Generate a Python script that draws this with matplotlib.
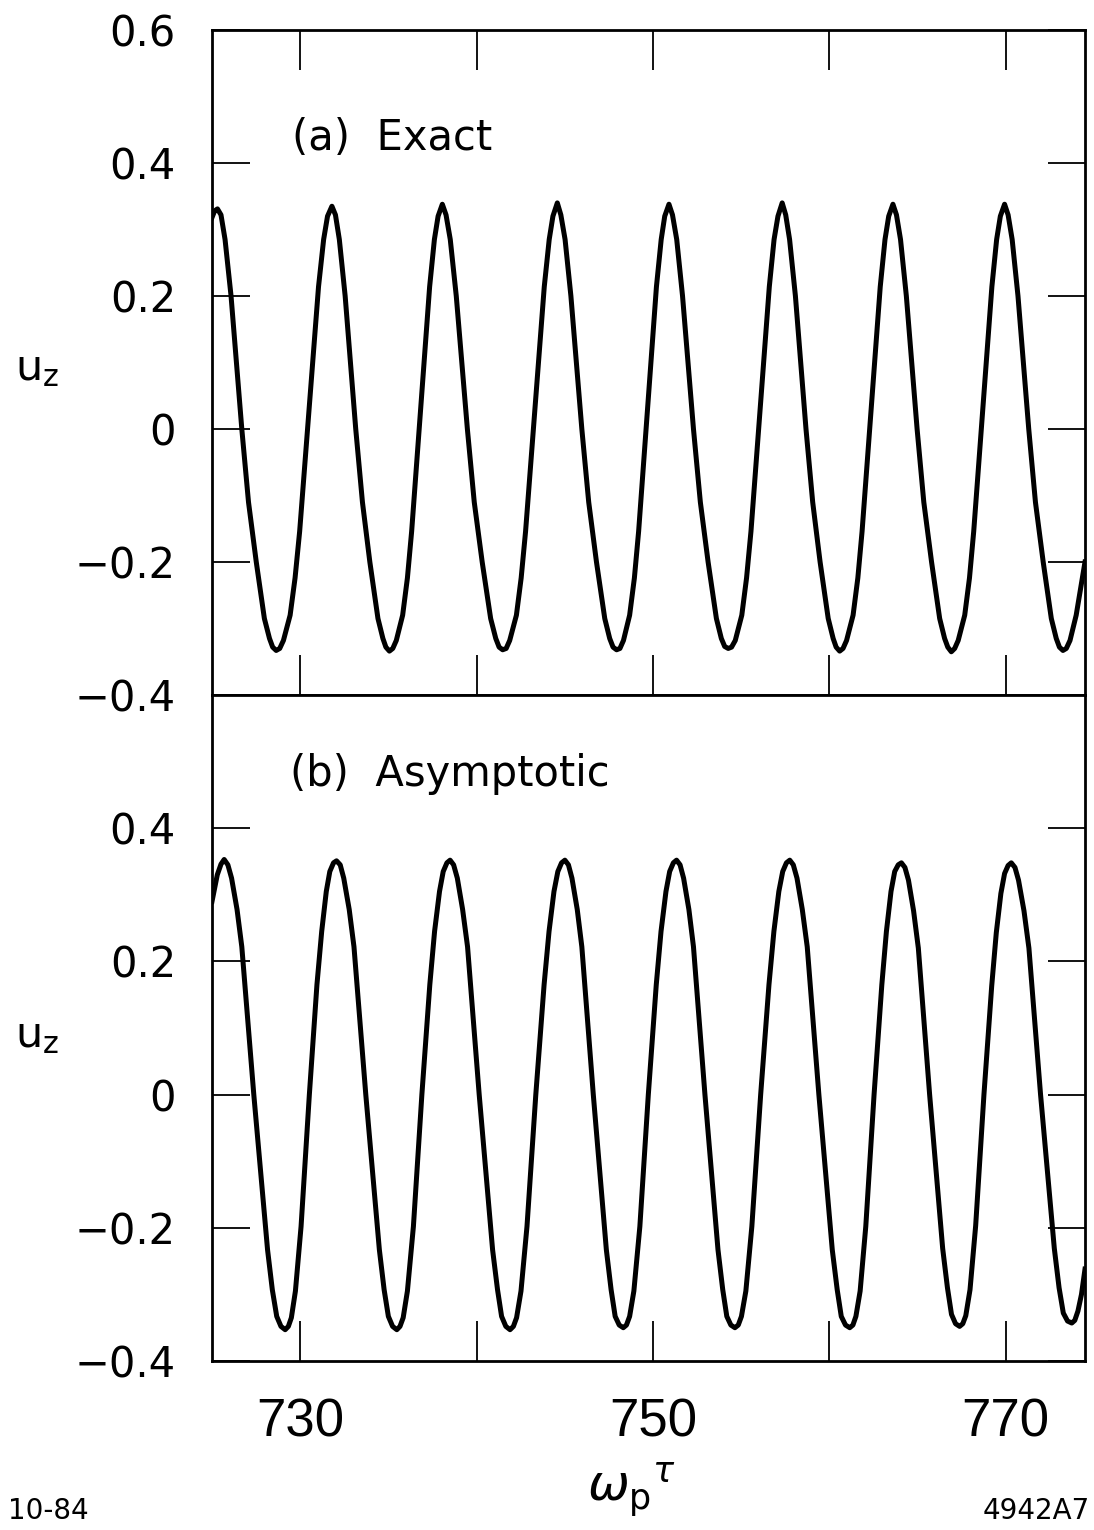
import matplotlib
matplotlib.use('Agg')
import matplotlib.pyplot as plt

# ---------------- data ----------------
# (a) Exact
time_a = [725.00, 725.15, 725.31,
          725.51, 725.74, 726.08, 726.69, 727.07, 727.51, 727.97, 728.26, 728.44, 728.64,
          728.84, 729.05, 729.43, 729.71, 729.97, 731.04, 731.33, 731.55, 731.80,
          732.00, 732.22, 732.55, 733.15, 733.53, 733.95, 734.41, 734.69, 734.86, 735.06,
          735.25, 735.45, 735.81, 736.08, 736.32, 737.34, 737.61, 737.82, 738.06,
          738.27, 738.51, 738.85, 739.48, 739.87, 740.32, 740.80, 741.09, 741.28, 741.48,
          741.68, 741.88, 742.26, 742.53, 742.78, 743.84, 744.12, 744.33, 744.58,
          744.78, 745.02, 745.35, 745.97, 746.36, 746.80, 747.27, 747.55, 747.74, 747.94,
          748.13, 748.33, 748.68, 748.95, 749.19, 750.20, 750.47, 750.67, 750.91,
          751.11, 751.35, 751.68, 752.30, 752.69, 753.13, 753.60, 753.88, 754.07, 754.27,
          754.46, 754.67, 755.04, 755.31, 755.56, 756.60, 756.87, 757.09, 757.33,
          757.53, 757.75, 758.08, 758.68, 759.06, 759.48, 759.94, 760.22, 760.39, 760.59,
          760.78, 760.98, 761.35, 761.62, 761.86, 762.89, 763.16, 763.37, 763.61,
          763.81, 764.04, 764.37, 764.98, 765.36, 765.80, 766.26, 766.54, 766.72, 766.92,
          767.11, 767.31, 767.68, 767.95, 768.19, 769.22, 769.49, 769.70, 769.94,
          770.14, 770.37, 770.70, 771.31, 771.69, 772.13, 772.59, 772.87, 773.05, 773.25,
          773.44, 773.65, 774.00, 774.25, 774.50]
uz_a = [0.318, 0.328, 0.331,
        0.322, 0.285, 0.200, 0.000, -0.110, -0.200, -0.285, -0.315, -0.328, -0.333,
        -0.330, -0.318, -0.280, -0.224, -0.154, 0.214, 0.285, 0.320, 0.335,
        0.322, 0.285, 0.200, 0.000, -0.110, -0.200, -0.285, -0.315, -0.328, -0.334,
        -0.330, -0.318, -0.280, -0.224, -0.154, 0.214, 0.285, 0.320, 0.338,
        0.322, 0.285, 0.200, 0.000, -0.110, -0.200, -0.285, -0.315, -0.328, -0.332,
        -0.330, -0.318, -0.280, -0.224, -0.154, 0.214, 0.285, 0.320, 0.340,
        0.322, 0.285, 0.200, 0.000, -0.110, -0.200, -0.285, -0.315, -0.328, -0.332,
        -0.330, -0.318, -0.280, -0.224, -0.154, 0.214, 0.285, 0.320, 0.338,
        0.322, 0.285, 0.200, 0.000, -0.110, -0.200, -0.285, -0.315, -0.327, -0.330,
        -0.328, -0.318, -0.280, -0.224, -0.154, 0.214, 0.285, 0.320, 0.340,
        0.322, 0.285, 0.200, 0.000, -0.110, -0.200, -0.285, -0.315, -0.328, -0.334,
        -0.330, -0.318, -0.280, -0.224, -0.154, 0.214, 0.285, 0.320, 0.338,
        0.322, 0.285, 0.200, 0.000, -0.110, -0.200, -0.285, -0.315, -0.328, -0.335,
        -0.330, -0.318, -0.280, -0.224, -0.154, 0.214, 0.285, 0.320, 0.338,
        0.322, 0.285, 0.200, 0.000, -0.110, -0.200, -0.285, -0.315, -0.328, -0.333,
        -0.330, -0.318, -0.280, -0.240, -0.200]

# (b) Asymptotic
time_b = [725.00, 725.30, 725.51, 725.69,
          725.90, 726.11, 726.42, 726.69, 727.37, 728.15, 728.42, 728.67, 728.91, 729.15,
          729.33, 729.50, 729.73, 730.05, 730.52, 730.95, 731.22, 731.48, 731.68, 731.89, 732.06,
          732.27, 732.47, 732.78, 733.05, 733.72, 734.49, 734.76, 735.00, 735.24, 735.48,
          735.66, 735.84, 736.08, 736.42, 736.90, 737.35, 737.62, 737.90, 738.11, 738.32, 738.50,
          738.70, 738.91, 739.21, 739.49, 740.15, 740.91, 741.19, 741.42, 741.66, 741.90,
          742.09, 742.27, 742.52, 742.86, 743.36, 743.83, 744.11, 744.39, 744.61, 744.82, 745.01,
          745.21, 745.41, 745.71, 745.97, 746.62, 747.36, 747.63, 747.86, 748.09, 748.32,
          748.50, 748.68, 748.92, 749.26, 749.74, 750.19, 750.46, 750.74, 750.95, 751.16, 751.34,
          751.54, 751.74, 752.04, 752.30, 752.95, 753.69, 753.96, 754.19, 754.42, 754.65,
          754.84, 755.02, 755.27, 755.61, 756.11, 756.58, 756.86, 757.14, 757.36, 757.57, 757.76,
          757.96, 758.17, 758.47, 758.75, 759.41, 760.17, 760.45, 760.68, 760.92, 761.16,
          761.34, 761.51, 761.75, 762.07, 762.54, 762.98, 763.24, 763.50, 763.71, 763.91, 764.09,
          764.29, 764.49, 764.78, 765.05, 765.69, 766.43, 766.70, 766.93, 767.16, 767.39,
          767.57, 767.74, 767.98, 768.30, 768.77, 769.21, 769.47, 769.73, 769.94, 770.14, 770.32,
          770.53, 770.73, 771.04, 771.32, 771.98, 772.76, 773.03, 773.27, 773.51, 773.75,
          773.92, 774.10, 774.30, 774.50]
uz_b = [0.290, 0.330, 0.346, 0.353,
        0.345, 0.325, 0.278, 0.222, 0.000, -0.233, -0.293, -0.333, -0.348, -0.353,
        -0.348, -0.335, -0.295, -0.198, 0.000, 0.165, 0.245, 0.305, 0.335, 0.348, 0.351,
        0.345, 0.325, 0.278, 0.222, 0.000, -0.233, -0.293, -0.333, -0.348, -0.353,
        -0.348, -0.335, -0.295, -0.198, 0.000, 0.165, 0.245, 0.305, 0.335, 0.348, 0.352,
        0.345, 0.325, 0.278, 0.222, 0.000, -0.233, -0.293, -0.333, -0.348, -0.353,
        -0.348, -0.335, -0.295, -0.198, 0.000, 0.165, 0.245, 0.305, 0.335, 0.348, 0.352,
        0.345, 0.325, 0.278, 0.222, 0.000, -0.233, -0.293, -0.333, -0.346, -0.350,
        -0.346, -0.333, -0.295, -0.198, 0.000, 0.165, 0.245, 0.305, 0.335, 0.348, 0.352,
        0.345, 0.325, 0.278, 0.222, 0.000, -0.233, -0.293, -0.333, -0.346, -0.350,
        -0.346, -0.333, -0.295, -0.198, 0.000, 0.165, 0.245, 0.305, 0.335, 0.348, 0.352,
        0.345, 0.325, 0.278, 0.222, 0.000, -0.233, -0.293, -0.333, -0.346, -0.350,
        -0.346, -0.333, -0.295, -0.198, 0.000, 0.165, 0.245, 0.305, 0.335, 0.345, 0.348,
        0.341, 0.322, 0.276, 0.220, 0.000, -0.231, -0.290, -0.330, -0.344, -0.348,
        -0.344, -0.332, -0.293, -0.197, 0.000, 0.163, 0.243, 0.302, 0.332, 0.344, 0.348,
        0.341, 0.322, 0.276, 0.220, 0.000, -0.231, -0.290, -0.328, -0.340, -0.343,
        -0.339, -0.325, -0.300, -0.262]

x_ticks = [730, 740, 750, 760, 770]
x_ticklabels = ['730', '', '750', '', '770']
y_ticks_a = [-0.4, -0.2, 0.0, 0.2, 0.4, 0.6]
y_ticklabels_a = ['\u22120.4', '\u22120.2', '0', '0.2', '0.4', '0.6']
y_ticks_b = [-0.4, -0.2, 0.0, 0.2, 0.4]
y_ticklabels_b = ['\u22120.4', '\u22120.2', '0', '0.2', '0.4']

# ---------------- figure ----------------
W, H = 1094, 1530
fig = plt.figure(figsize=(W / 100, H / 100), dpi=100)
L, R = 212 / W, 1085 / W
ax_a = fig.add_axes([L, 1 - 695 / H, R - L, 665 / H])
ax_b = fig.add_axes([L, 1 - 1361 / H, R - L, 666 / H])

for ax in (ax_a, ax_b):
    ax.set_xlim(725.0, 774.5)
    ax.set_ylim(-0.4, 0.6)
    for s in ax.spines.values():
        s.set_linewidth(2.0)
    ax.set_xticks(x_ticks)
    ax.tick_params(axis='y', direction='in', length=27, width=1.3,
                   left=True, right=True, pad=26)
    ax.tick_params(axis='x', direction='in', length=29, width=1.3, pad=26)

ax_a.plot(time_a, uz_a, color='black', lw=3.6, solid_joinstyle='round')
ax_b.plot(time_b, uz_b, color='black', lw=3.6, solid_joinstyle='round')

ax_a.set_yticks(y_ticks_a)
ax_a.set_yticklabels(y_ticklabels_a, fontsize=30, family='DejaVu Sans')
ax_b.set_yticks(y_ticks_b)
ax_b.set_yticklabels(y_ticklabels_b, fontsize=30, family='DejaVu Sans')

ax_a.tick_params(axis='x', top=True, bottom=True, labelbottom=False)
ax_b.tick_params(axis='x', top=False, bottom=True)
ax_b.set_xticklabels(x_ticklabels, fontsize=38, family=['Liberation Sans', 'DejaVu Sans'])

ax_a.text(0.0916, 0.8376, '(a)  Exact', transform=ax_a.transAxes,
          fontsize=30, ha='left', va='center')
ax_b.text(0.0893, 0.881, '(b)  Asymptotic', transform=ax_b.transAxes,
          fontsize=30, ha='left', va='center')

fig.text(15 / W, 1 - 368 / H, r'$\mathrm{u}_{\mathrm{z}}$', fontsize=31,
         ha='left', va='center')
fig.text(15 / W, 1 - 1035 / H, r'$\mathrm{u}_{\mathrm{z}}$', fontsize=31,
         ha='left', va='center')

fig.text(632 / W, 1 - 1490 / H, r'$\omega_{\mathrm{p}}{}^{\tau}$', fontsize=36,
         ha='center', va='center')
fig.text(8 / W, 1 - 1511 / H, '10-84', fontsize=20, ha='left', va='center')
fig.text(1090 / W, 1 - 1511 / H, '4942A7', fontsize=20, ha='right', va='center')

fig.savefig('out.png', dpi=100)
